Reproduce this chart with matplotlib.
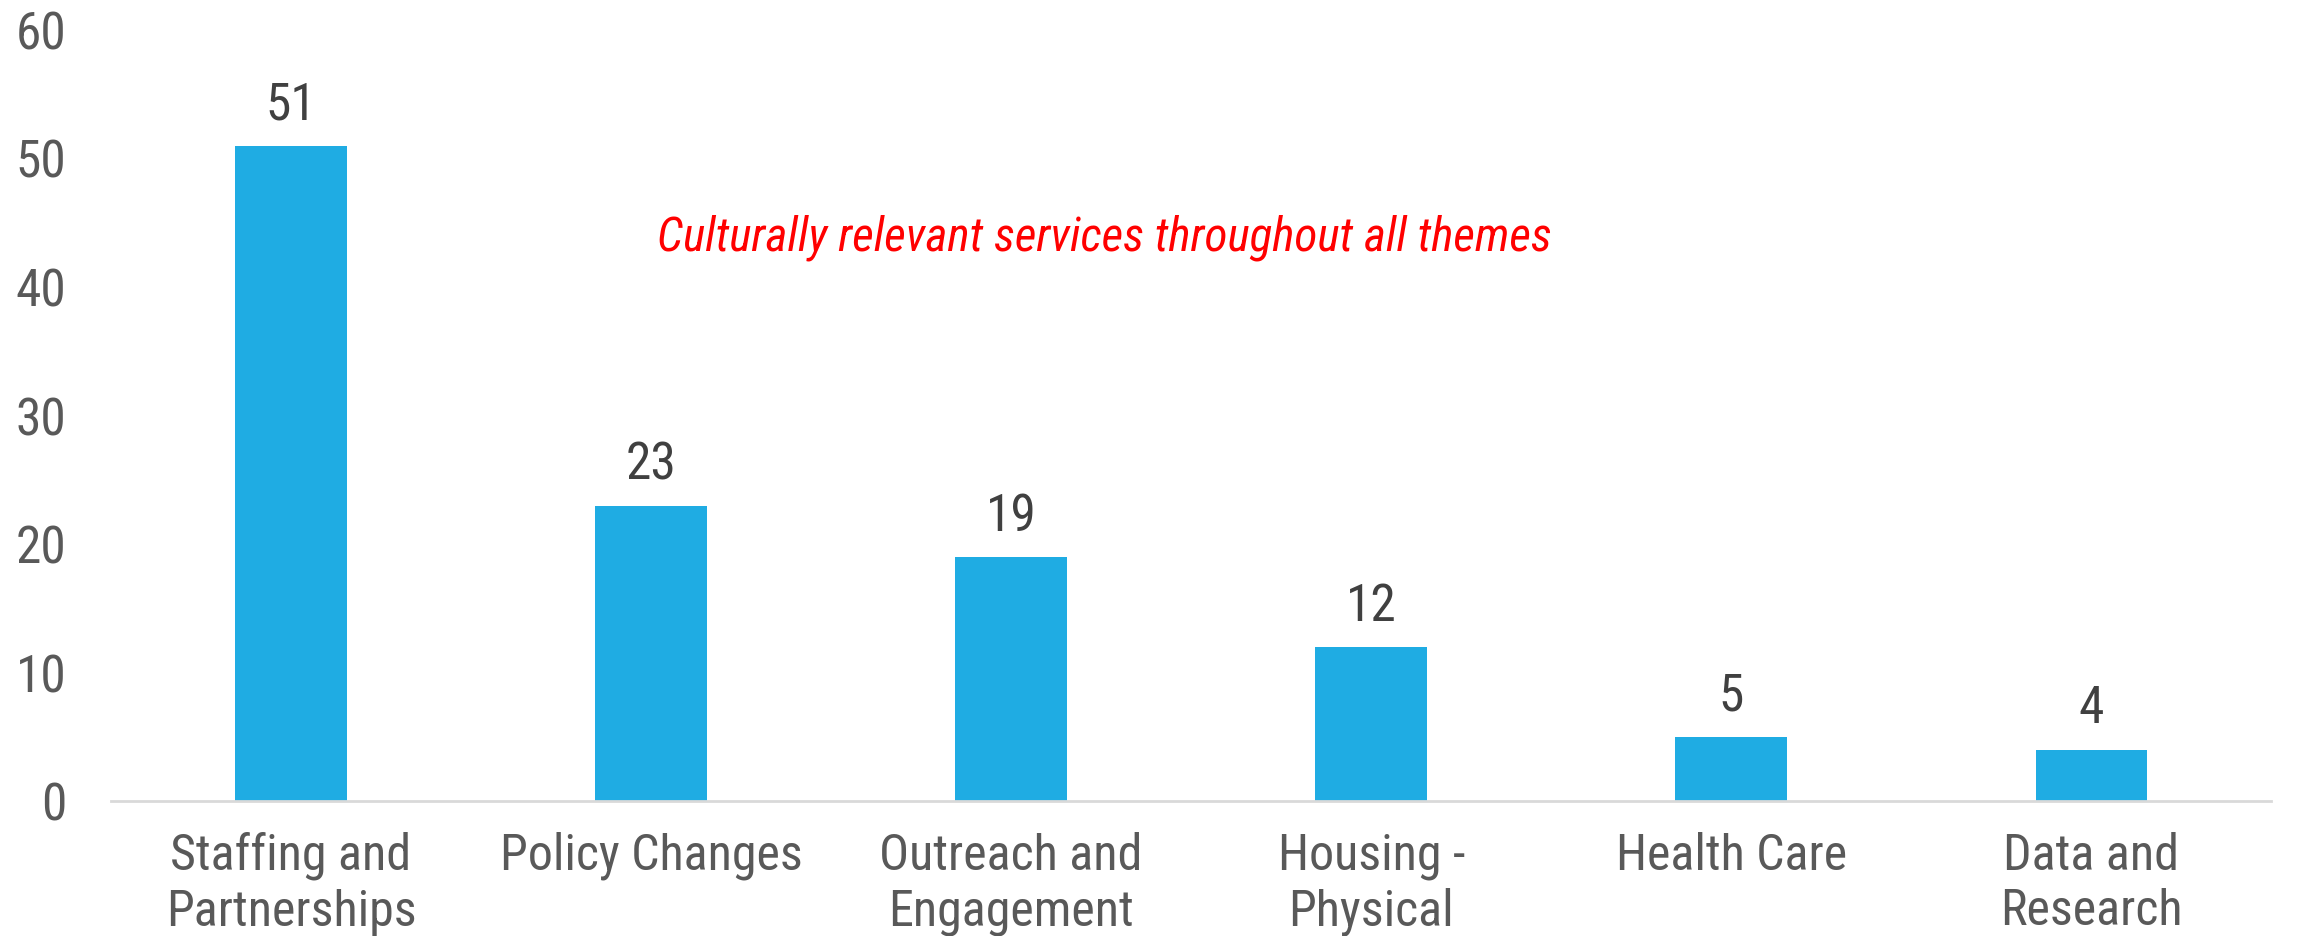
import numpy as np
import matplotlib
matplotlib.use("Agg")
import matplotlib.pyplot as plt

categories = ["Staffing and\nPartnerships", "Policy Changes", "Outreach and\nEngagement",
              "Housing -\nPhysical", "Health Care", "Data and\nResearch"]
counts = [51, 23, 19, 12, 5, 4]
y_ticks = [0, 10, 20, 30, 40, 50, 60]
note = "Culturally relevant services throughout all themes"

plt.rcParams["font.family"] = ["Roboto Condensed", "Archivo Narrow", "Fira Sans Condensed", "DejaVu Sans"]

fig = plt.figure(figsize=(23.13, 9.36), dpi=100)
ax = fig.add_axes([0.048, 0.144, 0.934, 0.824])

x = np.arange(len(categories))
ax.bar(x, counts, width=0.31, color="#1FACE3", zorder=2)

# valeurs au-dessus des barres
for i, v in enumerate(counts):
    ax.text(i, v + 1.2, str(v), ha="center", va="bottom", fontsize=37, color="#404040")

ax.text(2.26, 43.8, note, ha="center", va="center", fontsize=34,
        style="italic", color="#FF0000")

ax.set_xlim(-0.5, len(categories) - 0.5)
ax.set_ylim(0, 60)
ax.set_yticks(y_ticks)
ax.set_xticks(x)
ax.set_xticklabels(categories, fontsize=36, color="#595959", linespacing=1.2)
ax.tick_params(axis="y", labelsize=37, labelcolor="#595959", length=0, pad=32)
ax.tick_params(axis="x", length=0, pad=22)

for side in ["top", "right", "left"]:
    ax.spines[side].set_visible(False)
ax.spines["bottom"].set_color("#D9D9D9")
ax.spines["bottom"].set_linewidth(2)

fig.savefig("out.png", dpi=100)
